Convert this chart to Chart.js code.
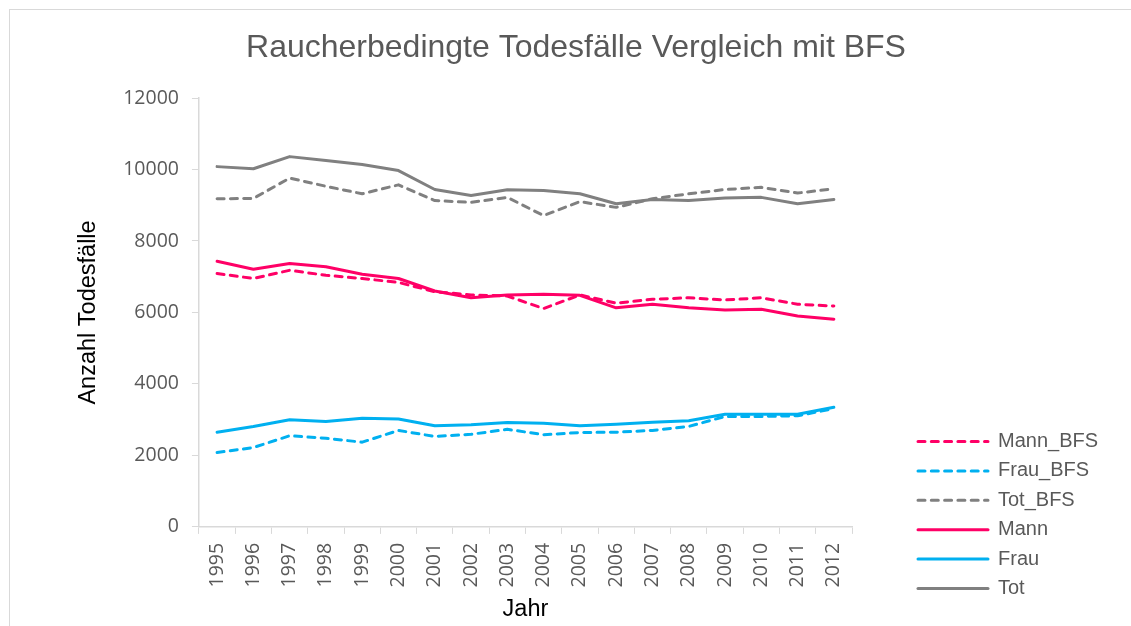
<!DOCTYPE html>
<html>
<head>
<meta charset="utf-8">
<script src="https://cdn.jsdelivr.net/npm/chart.js@4.4.1/dist/chart.umd.min.js"></script>
<style>
  html, body { margin: 0; padding: 0; background: #fff; overflow: hidden; }
  #frame { position: absolute; left: 9px; top: 9px; width: 1140px; height: 640px; border: 1px solid #d9d9d9; }
  #wrap { position: absolute; left: 0; top: 0; width: 1131px; height: 626px; }
</style>
</head>
<body>
<div id="frame"></div>
<div id="wrap"><canvas id="chart"></canvas></div>
<script>
// Jahre
const years = ['1995', '1996', '1997', '1998', '1999', '2000', '2001', '2002', '2003',
               '2004', '2005', '2006', '2007', '2008', '2009', '2010', '2011', '2012'];

// BFS Werte (gestrichelt)
const mannBfs = [7090, 6950, 7180, 7040, 6950, 6840, 6580, 6490, 6460, 6110, 6490, 6260, 6370, 6410, 6350, 6410, 6230, 6180];
const frauBfs = [2080, 2220, 2550, 2480, 2370, 2700, 2530, 2590, 2730, 2580, 2640, 2650, 2700, 2810, 3090, 3090, 3110, 3310];
const totBfs  = [9180, 9190, 9760, 9530, 9320, 9570, 9130, 9080, 9220, 8710, 9100, 8940, 9180, 9320, 9440, 9500, 9340, 9460];

// eigene Schätzung (durchgezogen)
const mann = [7430, 7210, 7370, 7280, 7070, 6950, 6600, 6410, 6490, 6510, 6480, 6130, 6230, 6130, 6070, 6090, 5900, 5810];
const frau = [2650, 2810, 3000, 2950, 3040, 3020, 2830, 2860, 2920, 2900, 2830, 2870, 2930, 2970, 3150, 3150, 3150, 3350];
const tot  = [10080, 10020, 10360, 10250, 10140, 9970, 9440, 9270, 9430, 9410, 9320, 9040, 9160, 9130, 9200, 9220, 9040, 9160];

const yTicks = [0, 2000, 4000, 6000, 8000, 10000, 12000];

const PINK = '#ff0066';
const BLUE = '#00b0f0';
const GREY = '#808080';
const DASH = [7, 6.3];
const LEGEND_W = 192;

function line(label, data, color, dashed) {
    return {
        label: label,
        data: data,
        borderColor: color,
        backgroundColor: color,
        borderWidth: 3,
        borderDash: dashed ? DASH : [],
        borderCapStyle: 'round',
        borderJoinStyle: 'round',
        pointRadius: 0,
        pointHoverRadius: 0,
        tension: 0,
        fill: false
    };
}

// Legende: feste Breite (sonst wird sie abgeschnitten)
const legendWidthFix = {
    id: 'legendWidthFix',
    beforeInit(chart) {
        const legend = chart.legend;
        const origFit = legend.fit;
        legend.fit = function () {
            origFit.call(this);
            this.width = LEGEND_W;
        };
    }
};

const ctx = document.getElementById('chart').getContext('2d');
new Chart(ctx, {
    type: 'line',
    data: {
        labels: years,
        datasets: [
            line('Mann_BFS', mannBfs, PINK, true),
            line('Frau_BFS', frauBfs, BLUE, true),
            line('Tot_BFS', totBfs, GREY, true),
            line('Mann', mann, PINK, false),
            line('Frau', frau, BLUE, false),
            line('Tot', tot, GREY, false)
        ]
    },
    plugins: [legendWidthFix],
    options: {
        responsive: true,
        maintainAspectRatio: false,
        animation: false,
        layout: { padding: { left: 51.4, right: 30.4, top: 10, bottom: 18.1 } },
        plugins: {
            title: {
                display: true,
                text: 'Raucherbedingte Todesfälle Vergleich mit BFS',
                color: '#595959',
                font: { family: 'Liberation Sans, Arial, sans-serif', size: 32, weight: 'normal' },
                padding: { top: 19, bottom: 30.6 }
            },
            legend: {
                position: 'right',
                align: 'end',
                labels: {
                    usePointStyle: true,
                    pointStyle: 'line',
                    pointStyleWidth: 70,
                    padding: 9.4,
                    color: '#595959',
                    font: { family: 'Liberation Sans, Arial, sans-serif', size: 20 },
                    generateLabels(chart) {
                        const items = Chart.defaults.plugins.legend.labels.generateLabels(chart);
                        items.forEach((it) => {
                            const ds = chart.data.datasets[it.datasetIndex];
                            it.lineDash = ds.borderDash;
                            it.lineCap = ds.borderCapStyle;
                            it.lineWidth = ds.borderWidth;
                            it.strokeStyle = ds.borderColor;
                        });
                        return items;
                    }
                }
            },
            tooltip: { enabled: false }
        },
        scales: {
            x: {
                offset: true,
                grid: { drawOnChartArea: false, drawTicks: true, tickLength: 7, color: '#d9d9d9', offset: true },
                border: { display: true, color: '#d9d9d9', width: 1.5 },
                ticks: {
                    minRotation: 90, maxRotation: 90, padding: 9, autoSkip: false,
                    color: '#595959',
                    font: { family: 'Open Sans, sans-serif', size: 19.5 }
                },
                title: {
                    display: true, text: 'Jahr', color: '#000',
                    font: { family: 'Liberation Sans, Arial, sans-serif', size: 23.5 },
                    padding: { top: -0.6, bottom: -16.2 }
                }
            },
            y: {
                min: 0,
                max: 12000,
                afterBuildTicks: (axis) => { axis.ticks = yTicks.map(v => ({ value: v })); },
                grid: { drawOnChartArea: false, drawTicks: true, tickLength: 7, color: '#d9d9d9' },
                border: { display: true, color: '#d9d9d9', width: 1.5 },
                ticks: {
                    padding: 13,
                    color: '#595959',
                    font: { family: 'Open Sans, sans-serif', size: 19.5 },
                    callback: (v) => String(v)
                },
                title: {
                    display: true, text: 'Anzahl Todesfälle', color: '#000',
                    font: { family: 'Liberation Sans, Arial, sans-serif', size: 23.5 },
                    padding: { top: 23.5, bottom: 7.1 }
                }
            },
            // Platzhalter-Achse: Abstand zwischen Plotbereich und Legende
            gap: {
                position: 'right',
                display: true,
                grid: { display: false },
                border: { display: false },
                ticks: { display: false },
                afterFit: (axis) => { axis.width = 56.6; }
            }
        }
    }
});
</script>
</body>
</html>
